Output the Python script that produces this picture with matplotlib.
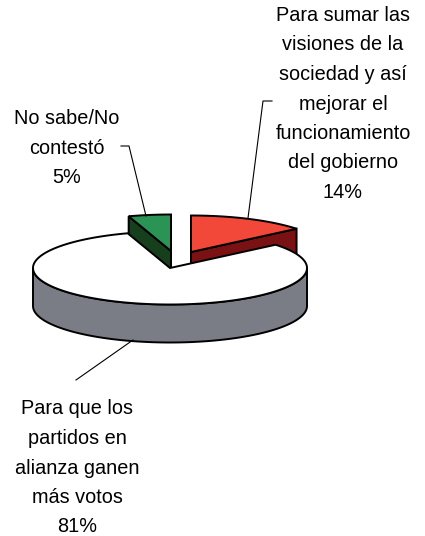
#Recreating the 3D exploded pie chart
import numpy as np
import matplotlib
matplotlib.use('Agg')
import matplotlib.pyplot as plt

#data
labels=['Para sumar las\nvisiones de la\nsociedad y así\nmejorar el\nfuncionamiento\ndel gobierno\n14%',
        'Para que los\npartidos en\nalianza ganen\nmás votos\n81%',
        'No sabe/No\ncontestó\n5%']
values=[14,81,5]
top_colors=['#f2483a','#ffffff','#2a9455']
side_colors=['#7a1214','#7a7d85','#163f1c']

plt.rcParams['font.family']=['Liberation Sans','DejaVu Sans']

fig=plt.figure(figsize=(4.25,5.36),dpi=100)
ax=fig.add_axes([0,0,1,1])
ax.set_xlim(0,425)
ax.set_ylim(536,0)
ax.axis('off')

#pie geometry in the picture
rx=137
ry=36.5
depth=38
centers=[(191,252),(170,268),(171,251)]
line='#000000'
lw=1.4

fracs=np.array(values)/sum(values)
starts=np.concatenate([[0],np.cumsum(fracs)[:-1]])*2*np.pi
ends=np.cumsum(fracs)*2*np.pi

def arc(c,a,b,dy=0):
    t=np.linspace(a,b,150)
    return c[0]+rx*np.sin(t),c[1]-ry*np.cos(t)+dy

#the small slices go first, the big one covers them
for n,i in enumerate([0,2,1]):
    c=centers[i]
    a,b=starts[i],ends[i]
    x,y=arc(c,a,b)
    z=n*2+2
    #side wall of the cut faces
    if i!=1:
        for t in (a,b):
            px=c[0]+rx*np.sin(t)
            py=c[1]-ry*np.cos(t)
            ax.fill([c[0],px,px,c[0]],[c[1],py,py+depth,c[1]+depth],
                    facecolor=side_colors[i],edgecolor=line,lw=lw,zorder=z)
    else:
        #outer wall, only the front half is seen
        t=np.linspace(max(a,np.pi/2),min(b,3*np.pi/2),200)
        wx=c[0]+rx*np.sin(t)
        wy=c[1]-ry*np.cos(t)
        ax.fill(np.r_[wx,wx[::-1]],np.r_[wy,wy[::-1]+depth],
                facecolor=side_colors[i],edgecolor=line,lw=lw,zorder=z)
    ax.fill(np.r_[c[0],x],np.r_[c[1],y],facecolor=top_colors[i],
            edgecolor=line,lw=lw,zorder=z+1,joinstyle='miter')

#leader lines
ax.plot([272,263,248],[101,101,218],color=line,lw=0.8,zorder=10)
ax.plot([121,129,146],[146,146,216],color=line,lw=0.8,zorder=10)
ax.plot([76,133],[380,340],color=line,lw=0.8,zorder=10)

#labels
ax.text(343,104,labels[0],ha='center',va='center',fontsize=14.3,linespacing=1.7,color='black',zorder=11)
ax.text(67,148,labels[2],ha='center',va='center',fontsize=14.3,linespacing=1.7,color='black',zorder=11)
ax.text(77,468,labels[1],ha='center',va='center',fontsize=14.3,linespacing=1.7,color='black',zorder=11)

fig.savefig('out.png',dpi=100)
